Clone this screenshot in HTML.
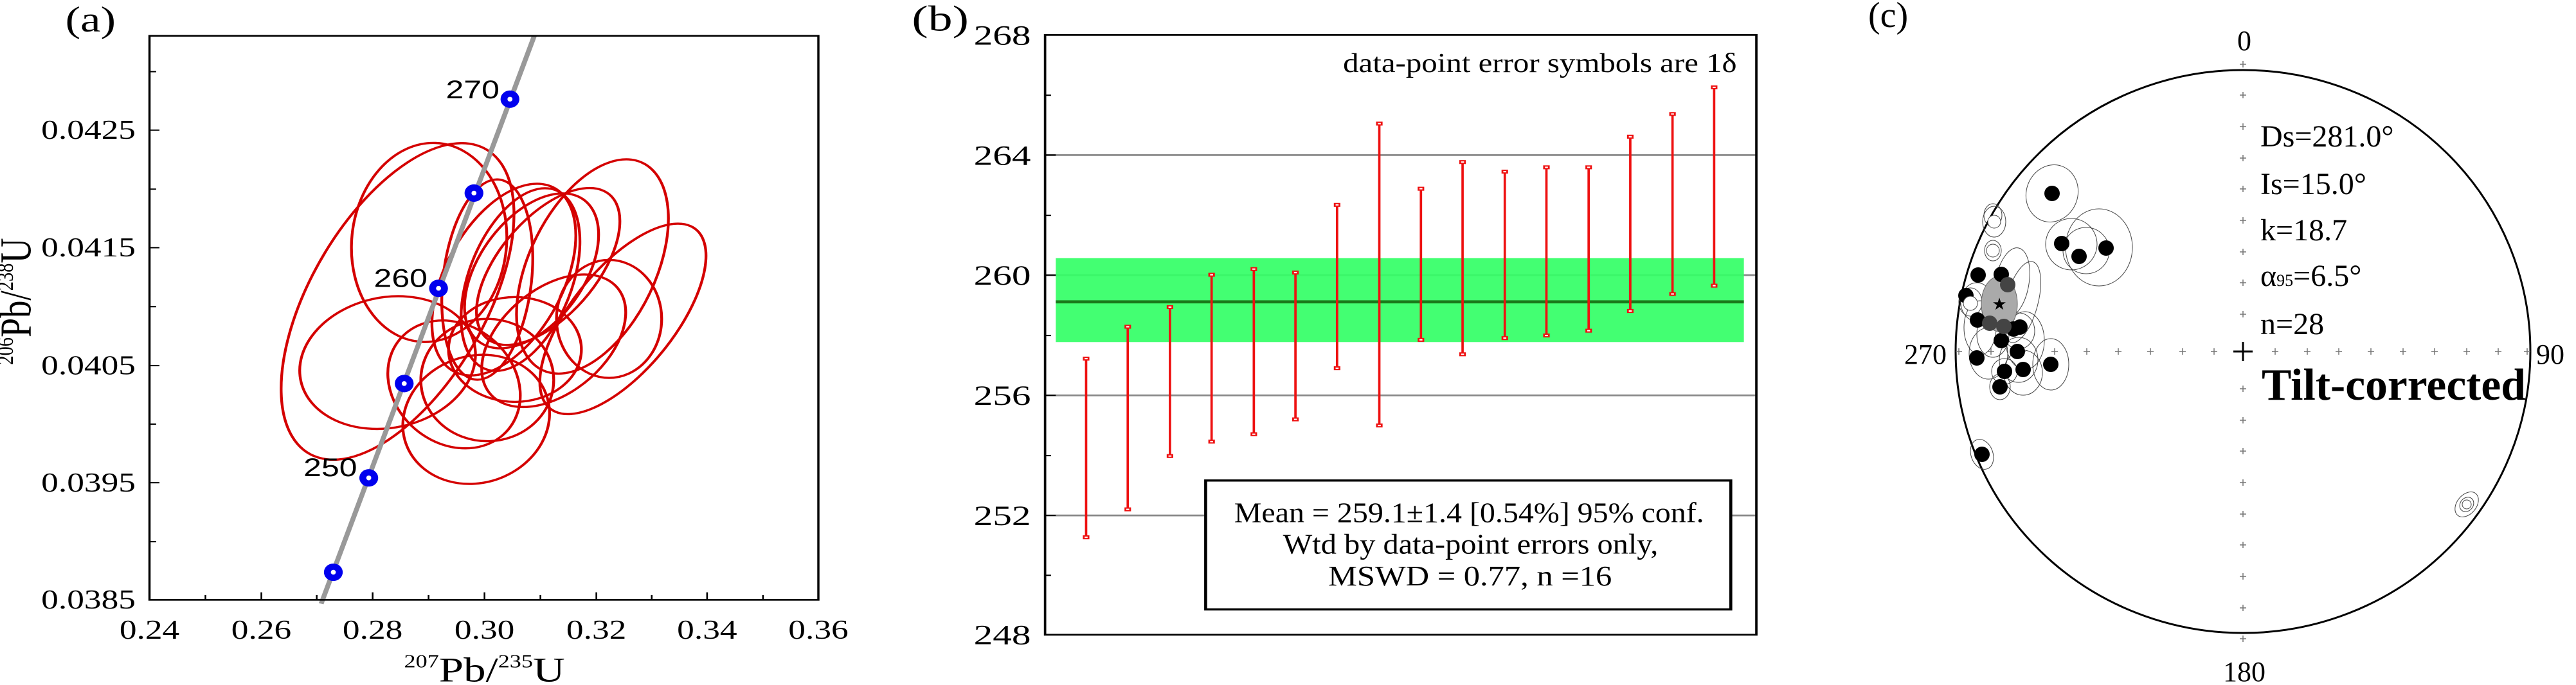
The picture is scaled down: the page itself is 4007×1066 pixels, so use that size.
<!DOCTYPE html>
<html><head><meta charset="utf-8"><style>
html,body{margin:0;padding:0;background:#fff;}
svg{display:block;}
text{font-family:"Liberation Serif",serif;}
text.sans{font-family:"Liberation Sans",sans-serif;}
</style></head><body>
<svg width="4007" height="1066" viewBox="0 0 4007 1066" xmlns="http://www.w3.org/2000/svg">
<rect width="4007" height="1066" fill="#fff"/>

<!-- Panel A -->
<g transform="scale(0.8613,0.6798)">
  <text x="118" y="72" font-size="82">(a)</text>
  <g fill="none" stroke="#d40000" stroke-width="5">
    <ellipse cx="718" cy="690" rx="165" ry="385" transform="rotate(22 718 690)"/>
    <ellipse cx="775" cy="555" rx="140" ry="228" transform="rotate(3 775 555)"/>
    <ellipse cx="700" cy="830" rx="165" ry="145" transform="rotate(-35 700 830)"/>
    <ellipse cx="1070" cy="610" rx="118" ry="255" transform="rotate(18 1070 610)"/>
    <ellipse cx="1125" cy="730" rx="100" ry="245" transform="rotate(30 1125 730)"/>
    <ellipse cx="1100" cy="730" rx="95" ry="135"/>
    <ellipse cx="860" cy="960" rx="130" ry="150" transform="rotate(20 860 960)"/>
    <ellipse cx="880" cy="870" rx="120" ry="140"/>
    <ellipse cx="910" cy="640" rx="110" ry="230" transform="rotate(20 910 640)"/>
    <ellipse cx="940" cy="640" rx="95" ry="215" transform="rotate(15 940 640)"/>
    <ellipse cx="960" cy="620" rx="100" ry="190" transform="rotate(25 960 620)"/>
    <ellipse cx="880" cy="640" rx="80" ry="230" transform="rotate(5 880 640)"/>
    <ellipse cx="990" cy="610" rx="95" ry="200" transform="rotate(30 990 610)"/>
    <ellipse cx="1000" cy="780" rx="105" ry="170" transform="rotate(35 1000 780)"/>
    <ellipse cx="820" cy="880" rx="115" ry="150" transform="rotate(-20 820 880)"/>
    <ellipse cx="930" cy="800" rx="120" ry="120"/>
  </g>
  <line x1="580" y1="1382" x2="965" y2="82" stroke="#999" stroke-width="9"/>
  <g fill="#0000ee">
    <ellipse cx="602" cy="1310" rx="17" ry="20"/><ellipse cx="666" cy="1094" rx="17" ry="20"/>
    <ellipse cx="730" cy="878" rx="17" ry="20"/><ellipse cx="792" cy="660" rx="17" ry="20"/>
    <ellipse cx="856" cy="442" rx="17" ry="20"/><ellipse cx="921" cy="227" rx="17" ry="20"/>
  </g>
  <g fill="#fff">
    <ellipse cx="602" cy="1310" rx="4.5" ry="5.5"/><ellipse cx="666" cy="1094" rx="4.5" ry="5.5"/>
    <ellipse cx="730" cy="878" rx="4.5" ry="5.5"/><ellipse cx="792" cy="660" rx="4.5" ry="5.5"/>
    <ellipse cx="856" cy="442" rx="4.5" ry="5.5"/><ellipse cx="921" cy="227" rx="4.5" ry="5.5"/>
  </g>
  <text class="sans" x="902" y="225" font-size="58" text-anchor="end">270</text>
  <text class="sans" x="772" y="657" font-size="58" text-anchor="end">260</text>
  <text class="sans" x="645" y="1090" font-size="58" text-anchor="end">250</text>
  <rect x="270" y="82" width="1208" height="1291" fill="none" stroke="#000" stroke-width="4"/>
  <g stroke="#000" stroke-width="3">
    <line x1="371" y1="1373" x2="371" y2="1362"/><line x1="472" y1="1373" x2="472" y2="1356"/>
    <line x1="572" y1="1373" x2="572" y2="1362"/><line x1="673" y1="1373" x2="673" y2="1356"/>
    <line x1="774" y1="1373" x2="774" y2="1362"/><line x1="875" y1="1373" x2="875" y2="1356"/>
    <line x1="976" y1="1373" x2="976" y2="1362"/><line x1="1077" y1="1373" x2="1077" y2="1356"/>
    <line x1="1177" y1="1373" x2="1177" y2="1362"/><line x1="1277" y1="1373" x2="1277" y2="1356"/>
    <line x1="1378" y1="1373" x2="1378" y2="1362"/>
    <line x1="270" y1="164" x2="282" y2="164"/><line x1="270" y1="298" x2="288" y2="298"/>
    <line x1="270" y1="433" x2="282" y2="433"/><line x1="270" y1="567" x2="288" y2="567"/>
    <line x1="270" y1="702" x2="282" y2="702"/><line x1="270" y1="837" x2="288" y2="837"/>
    <line x1="270" y1="971" x2="282" y2="971"/><line x1="270" y1="1105" x2="288" y2="1105"/>
    <line x1="270" y1="1240" x2="282" y2="1240"/>
  </g>
  <g font-size="62" text-anchor="middle">
    <text x="270" y="1462">0.24</text><text x="472" y="1462">0.26</text><text x="673" y="1462">0.28</text>
    <text x="875" y="1462">0.30</text><text x="1077" y="1462">0.32</text><text x="1277" y="1462">0.34</text>
    <text x="1478" y="1462">0.36</text>
  </g>
  <g font-size="62" text-anchor="end">
    <text x="245" y="318">0.0425</text><text x="245" y="587">0.0415</text><text x="245" y="857">0.0405</text>
    <text x="245" y="1125">0.0395</text><text x="245" y="1393">0.0385</text>
  </g>
  <text x="875" y="1560" font-size="80" text-anchor="middle"><tspan font-size="42" dy="-32">207</tspan><tspan dy="32">Pb/</tspan><tspan font-size="42" dy="-32">235</tspan><tspan dy="32">U</tspan></text>
  <text transform="translate(55,690) rotate(-90)" font-size="80" text-anchor="middle"><tspan font-size="42" dy="-32">206</tspan><tspan dy="32">Pb/</tspan><tspan font-size="42" dy="-32">238</tspan><tspan dy="32">U</tspan></text>
</g>

<!-- Panel B -->
<g transform="translate(1300,0) scale(0.9251,0.6798)">
  <text x="128" y="70" font-size="82">(b)</text>
  <g stroke="#888" stroke-width="4">
    <line x1="352" y1="355" x2="1548" y2="355"/><line x1="352" y1="630" x2="1548" y2="630"/>
    <line x1="352" y1="905" x2="1548" y2="905"/><line x1="352" y1="1180" x2="1548" y2="1180"/>
  </g>
  <rect x="370" y="591" width="1157" height="192" fill="#33ff66" opacity="0.92"/>
  <line x1="370" y1="691" x2="1527" y2="691" stroke="#1a7a1a" stroke-width="7"/>
  <g stroke="#ee1111" stroke-width="4" fill="#fff">
    <line x1="421" y1="821" x2="421" y2="1230"/><line x1="491" y1="748" x2="491" y2="1166"/>
    <line x1="562" y1="703" x2="562" y2="1044"/><line x1="632" y1="629" x2="632" y2="1011"/>
    <line x1="703" y1="616" x2="703" y2="994"/><line x1="773" y1="624" x2="773" y2="960"/>
    <line x1="843" y1="469" x2="843" y2="843"/><line x1="914" y1="283" x2="914" y2="974"/>
    <line x1="984" y1="432" x2="984" y2="778"/><line x1="1054" y1="371" x2="1054" y2="811"/>
    <line x1="1125" y1="393" x2="1125" y2="774"/><line x1="1195" y1="383" x2="1195" y2="768"/>
    <line x1="1266" y1="383" x2="1266" y2="757"/><line x1="1336" y1="313" x2="1336" y2="712"/>
    <line x1="1407" y1="261" x2="1407" y2="673"/><line x1="1477" y1="200" x2="1477" y2="654"/>
    <g stroke-width="3">
    <rect x="417" y="818" width="8" height="6"/><rect x="417" y="1227" width="8" height="6"/>
    <rect x="487" y="745" width="8" height="6"/><rect x="487" y="1163" width="8" height="6"/>
    <rect x="558" y="700" width="8" height="6"/><rect x="558" y="1041" width="8" height="6"/>
    <rect x="628" y="626" width="8" height="6"/><rect x="628" y="1008" width="8" height="6"/>
    <rect x="699" y="613" width="8" height="6"/><rect x="699" y="991" width="8" height="6"/>
    <rect x="769" y="621" width="8" height="6"/><rect x="769" y="957" width="8" height="6"/>
    <rect x="839" y="466" width="8" height="6"/><rect x="839" y="840" width="8" height="6"/>
    <rect x="910" y="280" width="8" height="6"/><rect x="910" y="971" width="8" height="6"/>
    <rect x="980" y="429" width="8" height="6"/><rect x="980" y="775" width="8" height="6"/>
    <rect x="1050" y="368" width="8" height="6"/><rect x="1050" y="808" width="8" height="6"/>
    <rect x="1121" y="390" width="8" height="6"/><rect x="1121" y="771" width="8" height="6"/>
    <rect x="1191" y="380" width="8" height="6"/><rect x="1191" y="765" width="8" height="6"/>
    <rect x="1262" y="380" width="8" height="6"/><rect x="1262" y="754" width="8" height="6"/>
    <rect x="1332" y="310" width="8" height="6"/><rect x="1332" y="709" width="8" height="6"/>
    <rect x="1403" y="258" width="8" height="6"/><rect x="1403" y="670" width="8" height="6"/>
    <rect x="1473" y="197" width="8" height="6"/><rect x="1473" y="651" width="8" height="6"/>
    </g>
  </g>
  <rect x="352" y="80" width="1196" height="1373" fill="none" stroke="#000" stroke-width="4"/>
  <g stroke="#000" stroke-width="3">
    <line x1="352" y1="80" x2="370" y2="80"/><line x1="352" y1="218" x2="362" y2="218"/>
    <line x1="352" y1="355" x2="370" y2="355"/><line x1="352" y1="493" x2="362" y2="493"/>
    <line x1="352" y1="630" x2="370" y2="630"/><line x1="352" y1="768" x2="362" y2="768"/>
    <line x1="352" y1="905" x2="370" y2="905"/><line x1="352" y1="1043" x2="362" y2="1043"/>
    <line x1="352" y1="1180" x2="370" y2="1180"/><line x1="352" y1="1317" x2="362" y2="1317"/>
  </g>
  <g font-size="64" text-anchor="end">
    <text x="328" y="102">268</text><text x="328" y="377">264</text><text x="328" y="652">260</text>
    <text x="328" y="927">256</text><text x="328" y="1202">252</text><text x="328" y="1475">248</text>
  </g>
  <text x="853" y="165" font-size="62" textLength="662" lengthAdjust="spacingAndGlyphs">data-point error symbols are 1δ</text>
  <rect x="622" y="1100" width="883" height="295" fill="#fff" stroke="#000" stroke-width="5"/>
  <g font-size="66">
    <text x="670" y="1195" textLength="790" lengthAdjust="spacingAndGlyphs">Mean = 259.1±1.4 [0.54%] 95% conf.</text>
    <text x="752" y="1267" textLength="631" lengthAdjust="spacingAndGlyphs">Wtd by data-point errors only,</text>
    <text x="828" y="1340" textLength="477" lengthAdjust="spacingAndGlyphs">MSWD = 0.77,    n =16</text>
  </g>
</g>

<!-- Panel C -->
<g>
  <text x="2906" y="42" font-size="56">(c)</text>
  <ellipse cx="3489" cy="547" rx="447" ry="438" fill="none" stroke="#000" stroke-width="3"/>
  <g font-size="44" text-anchor="middle">
    <text x="3491" y="78">0</text><text x="3491" y="1060">180</text>
  </g>
  <text x="3028" y="566" font-size="44" text-anchor="end">270</text>
  <text x="3945" y="566" font-size="44">90</text>
  <g stroke="#777" stroke-width="1.5">
    <path d="M3484 100h10M3489 95v10 M3484 148h10M3489 143v10 M3484 197h10M3489 192v10 M3484 246h10M3489 241v10 M3484 294h10M3489 289v10 M3484 343h10M3489 338v10 M3484 392h10M3489 387v10 M3484 440h10M3489 435v10 M3484 489h10M3489 484v10
    M3484 605h10M3489 600v10 M3484 654h10M3489 649v10 M3484 702h10M3489 697v10 M3484 751h10M3489 746v10 M3484 800h10M3489 795v10 M3484 848h10M3489 843v10 M3484 897h10M3489 892v10 M3484 946h10M3489 941v10 M3484 994h10M3489 989v10
    M3042 547h10M3047 542v10 M3092 547h10M3097 542v10 M3141 547h10M3146 542v10 M3191 547h10M3196 542v10 M3241 547h10M3246 542v10 M3290 547h10M3295 542v10 M3340 547h10M3345 542v10 M3390 547h10M3395 542v10 M3439 547h10M3444 542v10
    M3534 547h10M3539 542v10 M3584 547h10M3589 542v10 M3633 547h10M3638 542v10 M3683 547h10M3688 542v10 M3733 547h10M3738 542v10 M3782 547h10M3787 542v10 M3832 547h10M3837 542v10 M3881 547h10M3886 542v10 M3926 547h10M3931 542v10"/>
  </g>
  <path d="M3474 547h30M3489 532v30" stroke="#000" stroke-width="3"/>
  <g font-size="48">
    <text x="3516" y="228">Ds=281.0°</text>
    <text x="3516" y="302">Is=15.0°</text>
    <text x="3516" y="374">k=18.7</text>
    <text x="3516" y="445">α<tspan font-size="26">95</tspan>=6.5°</text>
    <text x="3516" y="520">n=28</text>
  </g>
  <text x="3518" y="622" font-size="70" font-weight="bold" textLength="411" lengthAdjust="spacingAndGlyphs">Tilt-corrected</text>
  <g fill="none" stroke="#444" stroke-width="1">
    <ellipse cx="3192" cy="301" rx="40" ry="45" transform="rotate(20 3192 301)"/>
    <ellipse cx="3222" cy="380" rx="40" ry="40"/>
    <ellipse cx="3245" cy="390" rx="36" ry="36"/>
    <ellipse cx="3265" cy="385" rx="52" ry="60"/>
    <ellipse cx="3102" cy="345" rx="18" ry="24"/><ellipse cx="3100" cy="335" rx="14" ry="18"/>
    <ellipse cx="3100" cy="390" rx="13" ry="16"/>
    <ellipse cx="3130" cy="440" rx="26" ry="55" transform="rotate(10 3130 440)"/>
    <ellipse cx="3145" cy="470" rx="25" ry="65" transform="rotate(15 3145 470)"/>
    <ellipse cx="3065" cy="470" rx="18" ry="22"/><ellipse cx="3075" cy="470" rx="25" ry="30"/>
    <ellipse cx="3080" cy="510" rx="25" ry="42"/><ellipse cx="3100" cy="520" rx="25" ry="36"/>
    <ellipse cx="3140" cy="515" rx="25" ry="28"/><ellipse cx="3150" cy="530" rx="30" ry="45"/>
    <ellipse cx="3140" cy="560" rx="30" ry="35"/><ellipse cx="3190" cy="567" rx="28" ry="40"/>
    <ellipse cx="3118" cy="578" rx="20" ry="20"/><ellipse cx="3147" cy="580" rx="30" ry="35"/>
    <ellipse cx="3111" cy="602" rx="16" ry="20"/><ellipse cx="3093" cy="550" rx="30" ry="40"/>
    <ellipse cx="3083" cy="707" rx="17" ry="24" transform="rotate(-20 3083 707)"/>
    <ellipse cx="3837" cy="785" rx="15" ry="22" transform="rotate(40 3837 785)"/>
    <ellipse cx="3837" cy="785" rx="10" ry="12" transform="rotate(40 3837 785)"/>
  </g>
  <ellipse cx="3110" cy="473" rx="28" ry="43" fill="#aaa" stroke="#666" stroke-width="1"/>
  <g fill="#000">
    <circle cx="3192" cy="301" r="12"/><circle cx="3207" cy="379" r="12"/><circle cx="3234" cy="399" r="12"/>
    <circle cx="3276" cy="386" r="12"/><circle cx="3077" cy="428" r="12"/><circle cx="3113" cy="427" r="12"/>
    <circle cx="3058" cy="460" r="12"/><circle cx="3076" cy="498" r="12"/><circle cx="3132" cy="512" r="12"/>
    <circle cx="3142" cy="509" r="12"/><circle cx="3113" cy="530" r="12"/><circle cx="3138" cy="547" r="12"/>
    <circle cx="3075" cy="557" r="12"/><circle cx="3190" cy="567" r="12"/><circle cx="3118" cy="578" r="12"/>
    <circle cx="3147" cy="575" r="12"/><circle cx="3111" cy="602" r="12"/><circle cx="3083" cy="707" r="12"/>
  </g>
  <g fill="#444">
    <circle cx="3123" cy="443" r="12"/><circle cx="3095" cy="503" r="12"/><circle cx="3117" cy="508" r="12"/>
  </g>
  <g fill="#fff" stroke="#444" stroke-width="1">
    <circle cx="3102" cy="345" r="10"/><circle cx="3100" cy="390" r="10"/><circle cx="3065" cy="472" r="11"/><circle cx="3837" cy="785" r="7"/>
  </g>
  <text class="sans" x="3110" y="482" font-size="26" text-anchor="middle">★</text>
</g>
</svg>
</body></html>
